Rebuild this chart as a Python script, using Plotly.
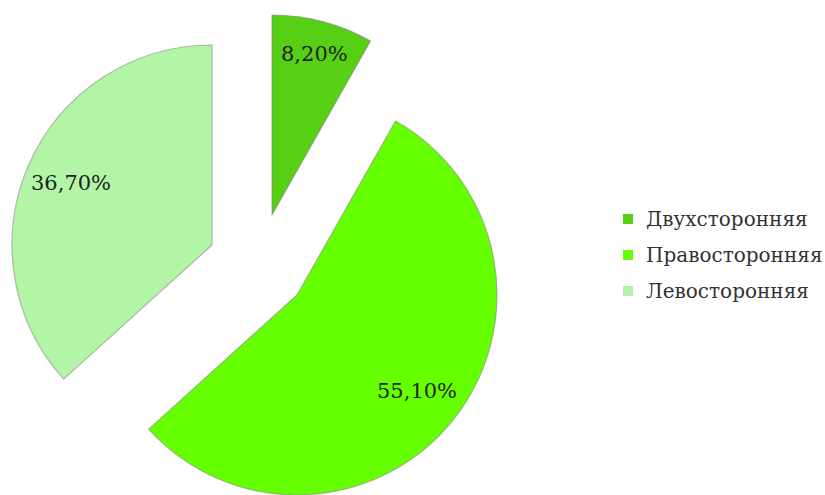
import math
import plotly.graph_objects as go

# Distribution of cases by side
labels = ["Двухсторонняя", "Правосторонняя", "Левосторонняя"]
values = [8.2, 55.1, 36.7]
colors = ["#57CF14", "#66FF00", "#B3F5A6"]

# Layout of the exploded pie (pixels in an 825x495 canvas)
W, H = 825, 495
R = 200
slice_centers = [(272, 215), (297, 295), (212, 245)]  # apex of each pulled-out slice
label_radius = [0.83, 0.77, 0.77]                     # label distance as a fraction of R
FONT = "DejaVu Serif, serif"


def fmt(v):
    return f"{v:.2f}".replace(".", ",") + "%"


fig = go.Figure()
total = sum(values)
cum = 0.0
annotations = []
for k, (v, (cx, cy)) in enumerate(zip(values, slice_centers)):
    # each slice gets its own pie so it can be displaced independently
    cols = [colors[i] if i == k else "rgba(0,0,0,0)" for i in range(len(values))]
    lines = ["rgba(130,130,130,0.55)" if i == k else "rgba(0,0,0,0)" for i in range(len(values))]
    fig.add_trace(go.Pie(
        labels=labels,
        values=values,
        sort=False,
        direction="clockwise",
        rotation=0,
        marker=dict(colors=cols, line=dict(color=lines, width=1.2)),
        textinfo="none",
        hoverinfo="skip",
        showlegend=False,
        domain=dict(
            x=[(cx - R) / W, (cx + R) / W],
            y=[max(0.0, 1 - (cy + R) / H), min(1.0, 1 - (cy - R) / H)],
        ),
    ))
    # value label along the slice bisector
    mid = (cum + v / 2) / total * 2 * math.pi
    cum += v
    lx = cx + label_radius[k] * R * math.sin(mid)
    ly = cy - label_radius[k] * R * math.cos(mid)
    annotations.append(dict(
        x=lx / W, y=1 - ly / H, xref="paper", yref="paper",
        text=fmt(v), showarrow=False, xanchor="center", yanchor="middle",
        font=dict(family=FONT, size=21, color="#222222"),
    ))

# legend drawn as swatches + text
shapes = []
leg_x, leg_y0, leg_dy, sw = 628, 219, 36, 10
for i, (lab, col) in enumerate(zip(labels, colors)):
    yc = leg_y0 + i * leg_dy
    shapes.append(dict(
        type="rect", xref="paper", yref="paper",
        x0=(leg_x - sw / 2) / W, x1=(leg_x + sw / 2) / W,
        y0=1 - (yc + sw / 2) / H, y1=1 - (yc - sw / 2) / H,
        fillcolor=col, line=dict(width=0),
    ))
    annotations.append(dict(
        x=(leg_x + 16) / W, y=1 - yc / H, xref="paper", yref="paper",
        text=lab, showarrow=False, xanchor="left", yanchor="middle",
        font=dict(family=FONT, size=20, color="#333333"),
    ))

fig.update_layout(
    width=W, height=H,
    margin=dict(l=0, r=0, t=0, b=0),
    paper_bgcolor="white",
    plot_bgcolor="white",
    annotations=annotations,
    shapes=shapes,
)

fig.write_html("out.html")
